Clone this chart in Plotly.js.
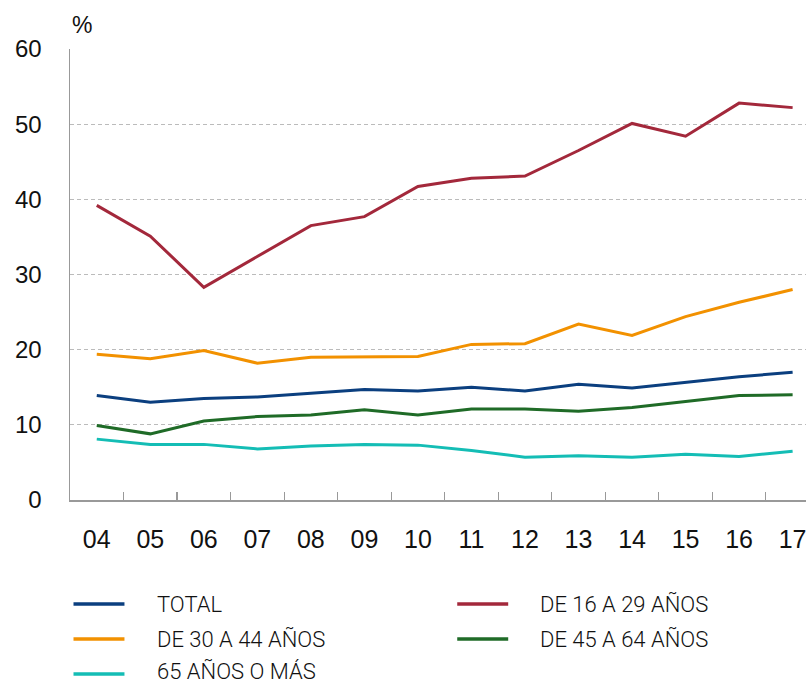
<!DOCTYPE html>
<html>
<head>
<meta charset="utf-8">
<script src="https://cdn.plot.ly/plotly-3.0.1.min.js"></script>
<style>
  html, body { margin: 0; padding: 0; background: #fff; }
  #chart { width: 806px; height: 684px; }
</style>
</head>
<body>
<div id="chart"></div>
<script>
const years = ['04','05','06','07','08','09','10','11','12','13','14','15','16','17'];

const seriesNames = ['TOTAL', 'DE 16 A 29 AÑOS', 'DE 30 A 44 AÑOS', 'DE 45 A 64 AÑOS', '65 AÑOS O MÁS'];

const total    = [13.9, 13.0, 13.5, 13.7, 14.2, 14.7, 14.5, 15.0, 14.5, 15.4, 14.9, 15.7, 16.4, 17.0];
const age16_29 = [39.2, 35.1, 28.3, 32.4, 36.5, 37.7, 41.7, 42.8, 43.1, 46.5, 50.1, 48.4, 52.8, 52.2];
const age30_44 = [19.4, 18.8, 19.9, 18.2, 19.0, 19.1, 19.1, 20.7, 20.8, 23.4, 21.9, 24.4, 26.3, 28.0];
const age45_64 = [9.9, 8.8, 10.5, 11.1, 11.3, 12.0, 11.3, 12.1, 12.1, 11.8, 12.3, 13.1, 13.9, 14.0];
const age65    = [8.1, 7.4, 7.4, 6.8, 7.2, 7.4, 7.3, 6.6, 5.7, 5.9, 5.7, 6.1, 5.8, 6.5];

const yTicks = [0, 10, 20, 30, 40, 50, 60];

const values = [total, age16_29, age30_44, age45_64, age65];
const colors = ['#0b3f7f', '#a3283b', '#f29100', '#1f6b27', '#14bdb5'];

const traces = values.map((v, i) => ({
  x: years,
  y: v,
  type: 'scatter',
  mode: 'lines',
  name: seriesNames[i],
  line: { color: colors[i], width: 3 },
  showlegend: false,
  hoverinfo: 'x+y+name'
}));

// Custom legend (two columns)
const W = 806, H = 684;
const mL = 69.5, mR = 0, mT = 49, mB = 184;
const pw = W - mL - mR, ph = H - mT - mB;
const px2x = p => (p - mL) / pw;
const py2y = p => (H - mB - p) / ph;

const legendPos = [
  { line: [73, 124], text: 156, y: 604, ty: 604 },  // TOTAL
  { line: [457, 508], text: 539, y: 604, ty: 604 }, // 16-29
  { line: [73, 124], text: 156, y: 639, ty: 639 },  // 30-44
  { line: [457, 508], text: 539, y: 639, ty: 639 }, // 45-64
  { line: [73, 124], text: 156, y: 674, ty: 671 }   // 65+
];

const shapes = legendPos.map((p, i) => ({
  type: 'line', xref: 'paper', yref: 'paper',
  x0: px2x(p.line[0]), x1: px2x(p.line[1]),
  y0: py2y(p.y), y1: py2y(p.y),
  line: { color: colors[i], width: 3.5 }
}));

const legendFont = { family: 'Roboto, "Liberation Sans Narrow", sans-serif', size: 22, weight: 300, color: '#111' };

const annotations = legendPos.map((p, i) => ({
  xref: 'paper', yref: 'paper',
  x: px2x(p.text), y: py2y(p.ty),
  xanchor: 'left', yanchor: 'middle',
  text: seriesNames[i], showarrow: false,
  borderpad: 0,
  font: legendFont
}));

annotations.push({
  xref: 'paper', yref: 'paper',
  x: px2x(70), y: py2y(25),
  xanchor: 'left', yanchor: 'middle',
  text: '%', showarrow: false,
  font: { family: '"Liberation Sans", Arial, sans-serif', size: 23, color: '#111' }
});

const layout = {
  width: W, height: H,
  margin: { l: mL, r: mR, t: mT, b: mB, pad: 0 },
  paper_bgcolor: '#fff',
  plot_bgcolor: '#fff',
  font: { family: '"Liberation Sans", Arial, sans-serif', size: 24, color: '#111' },
  xaxis: {
    type: 'category',
    range: [-0.5, 13.25],
    tickson: 'boundaries',
    ticks: 'inside',
    ticklen: 8,
    tickwidth: 1.2,
    tickcolor: '#999',
    showgrid: false,
    showline: true,
    linecolor: '#999',
    linewidth: 1.5,
    tickfont: { size: 25, color: '#111' },
    ticklabelstandoff: 16,
    fixedrange: true
  },
  yaxis: {
    range: [0, 60],
    tickvals: yTicks,
    ticktext: yTicks.map(String),
    showgrid: true,
    gridcolor: '#bbbbbb',
    gridwidth: 1,
    griddash: '4px,3px',
    zeroline: false,
    showline: true,
    linecolor: '#999',
    linewidth: 1.5,
    ticks: '',
    tickfont: { size: 24, color: '#111' },
    ticklabelstandoff: 22,
    fixedrange: true
  },
  shapes: shapes,
  annotations: annotations,
  showlegend: false
};

Plotly.newPlot('chart', traces, layout, { displayModeBar: false, staticPlot: true });
</script>
</body>
</html>
